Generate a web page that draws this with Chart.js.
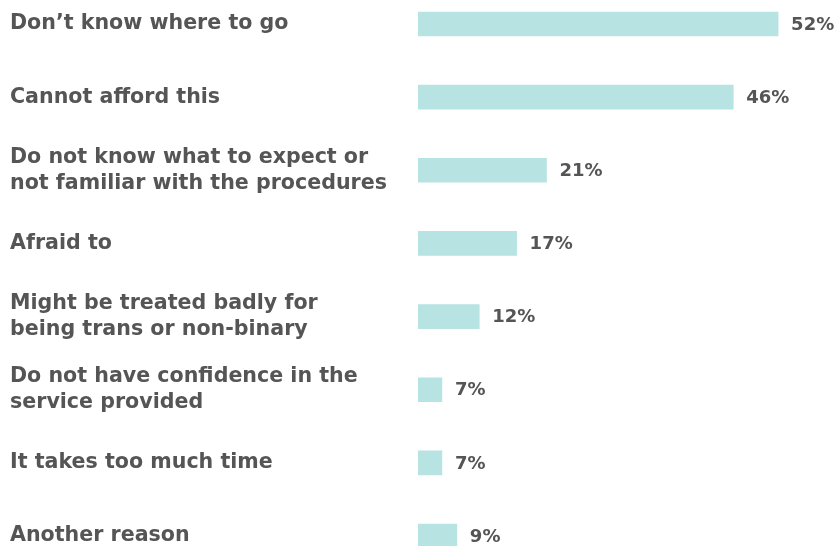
<!DOCTYPE html>
<html>
<head>
<meta charset="utf-8">
<script src="https://cdn.jsdelivr.net/npm/chart.js@4.4.0/dist/chart.umd.min.js"></script>
<style>
  html, body { margin: 0; padding: 0; background: #fff; }
  #wrap { width: 835px; height: 546px; }
</style>
</head>
<body>
<div id="wrap"><canvas id="barChart"></canvas></div>
<script>
const reasons = [
    ['Don\u2019t know where to go'],
    ['Cannot afford this'],
    ['Do not know what to expect or', 'not familiar with the procedures'],
    ['Afraid to'],
    ['Might be treated badly for', 'being trans or non-binary'],
    ['Do not have confidence in the', 'service provided'],
    ['It takes too much time'],
    ['Another reason']
];
const percents = [52, 46, 21, 17, 12, 7, 7, 9];

const textColor = '#555555';
const barColor = '#b8e3e3';
const fontFamily = '"DejaVu Sans", sans-serif';

// draws the "52%" style labels just after each bar
const valueLabels = {
    id: 'valueLabels',
    afterDatasetsDraw(chart) {
        const c = chart.ctx;
        const meta = chart.getDatasetMeta(0);
        c.save();
        c.font = 'bold 18px ' + fontFamily;
        c.fillStyle = textColor;
        c.textAlign = 'left';
        c.textBaseline = 'middle';
        meta.data.forEach((bar, i) => {
            c.fillText(percents[i] + '%', bar.x + 13, bar.y + 1);
        });
        c.restore();
    }
};

const ctx = document.getElementById('barChart');
const barChart = new Chart(ctx, {
    type: 'bar',
    data: {
        labels: reasons,
        datasets: [{
            data: percents,
            backgroundColor: barColor,
            borderWidth: 0,
            barThickness: 24,
            clip: { left: 0, top: false, right: false, bottom: false }
        }]
    },
    plugins: [valueLabels],
    options: {
        indexAxis: 'y',
        responsive: true,
        maintainAspectRatio: false,
        animation: false,
        layout: {
            padding: { left: 10, right: 27, top: 24, bottom: 10 }
        },
        plugins: {
            legend: { display: false },
            tooltip: { enabled: false }
        },
        scales: {
            x: {
                display: false,
                min: 3.8,
                max: 56
            },
            y: {
                offset: false,
                grid: { display: false },
                border: { display: false },
                afterFit: (scale) => {
                    scale.width = 408;
                    scale.paddingTop = 0;
                    scale.paddingBottom = 0;
                },
                ticks: {
                    crossAlign: 'far',
                    color: textColor,
                    padding: 0,
                    font: { family: fontFamily, size: 20.6, weight: 'bold', lineHeight: 1.27 }
                }
            }
        }
    }
});
</script>
</body>
</html>
